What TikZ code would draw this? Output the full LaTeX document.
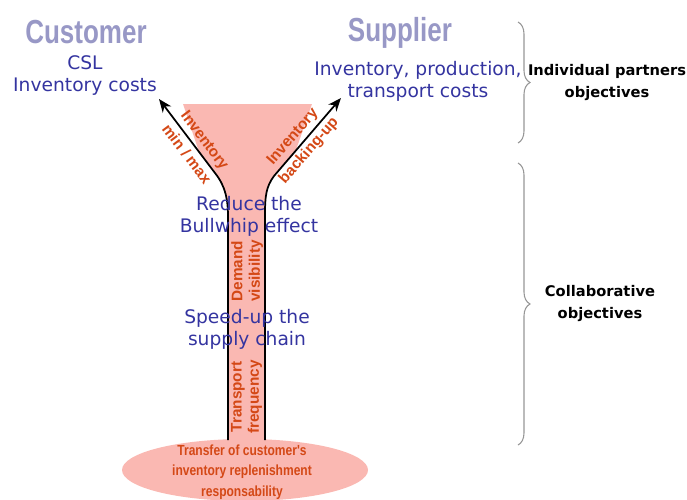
\documentclass[tikz,border=0pt]{standalone}
\usepackage{fontspec}
\setmainfont{DejaVu Sans}
\newfontfamily\titlefont[FakeStretch=0.78]{Liberation Sans}
\newfontfamily\leverfont{Liberation Sans}
\newfontfamily\narrowfont[FakeStretch=0.82]{Liberation Sans}
\usetikzlibrary{shapes.geometric,decorations.pathreplacing,arrows.meta}
\definecolor{funnelpink}{RGB}{250,184,178}
\definecolor{goalblue}{RGB}{52,52,160}
\definecolor{leverred}{RGB}{212,72,22}
\definecolor{partnergrey}{RGB}{152,152,198}
\definecolor{bracegrey}{RGB}{150,150,150}

\begin{document}
\begin{tikzpicture}[x=0.75pt,y=-0.75pt,
  partner/.style={font=\titlefont\bfseries\fontsize{25}{28}\selectfont, text=partnergrey, inner sep=0pt},
  goal/.style={font=\fontsize{14}{16.5}\selectfont, text=goalblue, align=center, inner sep=0pt},
  level/.style={font=\bfseries\fontsize{11}{16.5}\selectfont, align=center, inner sep=0pt},
  lever/.style={font=\leverfont\bfseries\fontsize{11.5}{13}\selectfont, text=leverred, inner sep=0pt},
  transferlbl/.style={font=\narrowfont\bfseries\fontsize{11}{15.5}\selectfont, text=leverred, align=center, inner sep=0pt},
  edge/.style={line width=1.3pt, -{Stealth[length=10pt,width=8pt]}},
  objbrace/.style={draw=bracegrey, line width=0.8pt, decorate, decoration={brace, amplitude=9pt}}]

\useasboundingbox (0,0) rectangle (687,500);

% funnel and base
\begin{scope}
\clip (0,0) rectangle (687,500);
\fill[funnelpink] (183,104) -- (312,104) -- (296,150) -- (274,176)
  .. controls (266,187) and (265,196) .. (265,215) -- (265,440)
  -- (228,440) -- (228,218) .. controls (228,200) and (226,187) .. (215,173)
  -- (199,152) -- cycle;
\node[ellipse, fill=funnelpink, minimum width=184.5pt, minimum height=46.5pt] (base) at (245,470) {};
\end{scope}

% partners
\node[partner] (customer) at (86,32) {Customer};
\node[goal] (customergoal) at (85,76) {CSL\\Inventory costs};
\node[partner] (supplier) at (400,33) {Supplier};
\node[goal] (suppliergoal) at (418,81) {Inventory, production,\\transport costs};

\coordinate (lefttip) at (159,99);
\coordinate (righttip) at (341,98);
\coordinate (leftfoot) at (228,440);
\coordinate (rightfoot) at (265,440);

\draw[edge] (leftfoot) -- (228,218) .. controls (228,200) and (226,187) .. (215,173) -- (lefttip);
\draw[edge] (rightfoot) -- (265,215) .. controls (265,196) and (266,187) .. (274,176) -- (righttip);

% levers
\node[lever, rotate=-53] (invleft) at (204,141) {Inventory};
\node[lever, rotate=-53] (minmax) at (187,154) {min / max};
\node[lever, rotate=49] (invright) at (293,137) {Inventory};
\node[lever, rotate=49] (backing) at (309,151) {backing-up};
\node[lever, rotate=90] (demand) at (237,271) {Demand};
\node[lever, rotate=90] (visibility) at (256,271) {visibility};
\node[lever, rotate=90] (transport) at (238,397) {Transport};
\node[lever, rotate=90] (frequency) at (255,397) {frequency};

% collaborative goals
\node[goal] (bullwhip) at (249,216) {Reduce the\\Bullwhip effect};
\node[goal] (speedup) at (247,329) {Speed-up the\\supply chain};

\node[transferlbl] (transfer) at (242,472) {Transfer of customer's\\inventory replenishment\\responsability};

% objectives
\draw[objbrace] (518,22) -- (518,143);
\node[level] (individual) at (607,83) {Individual partners\\objectives};
\draw[objbrace] (518,163) -- (518,445);
\node[level] (collab) at (600,304) {Collaborative\\objectives};
\end{tikzpicture}
\end{document}
